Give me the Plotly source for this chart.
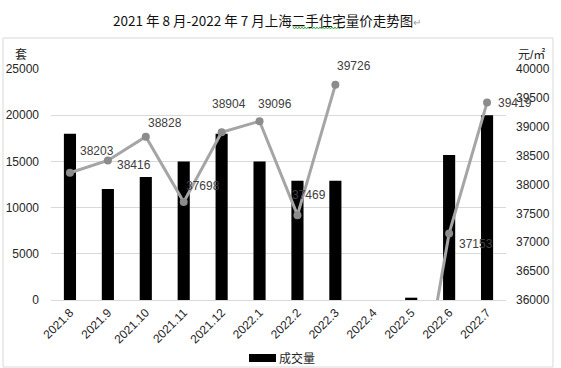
import plotly.graph_objects as go

# ---- data ----
months = ["2021.8", "2021.9", "2021.10", "2021.11", "2021.12", "2022.1",
          "2022.2", "2022.3", "2022.4", "2022.5", "2022.6", "2022.7"]
volume = [18000, 12000, 13300, 15000, 18000, 15000, 12900, 12900, 0, 250, 15700, 20000]
price = [38203, 38416, 38828, 37698, 38904, 39096, 37469, 39726, None, 33400, 37153, 39419]

y1_ticks = [0, 5000, 10000, 15000, 20000, 25000]
y2_range = [36000, 40000]

# label offsets in px (style)
label_dx = [27, 26, 19, 19, 7, 15, 12, 19, 0, 0, 27, 28]
label_dy = [22, -5, 14, 16, 28, 17, 20, 19, 0, 0, -11, 0]

W, H = 561, 368
L, R, T, B = 51, 506, 69, 300  # plot area in px


def px(x):
    return (x - L) / (R - L)


def py(y):
    return (B - y) / (B - T)


FONT = "Liberation Sans, Noto Sans CJK SC, sans-serif"

fig = go.Figure()
fig.add_bar(x=months, y=volume, marker_color="black", marker_line_width=0,
            width=0.32, name="成交量", showlegend=False)
fig.add_scatter(x=months, y=price, yaxis="y2", mode="lines+markers",
                line=dict(color="#a5a5a5", width=3),
                marker=dict(color="#8c8c8c", size=8),
                connectgaps=False, showlegend=False, cliponaxis=True)

annotations = []
for i, (p, dx, dy) in enumerate(zip(price, label_dx, label_dy)):
    if p is None or p < y2_range[0] or p > y2_range[1]:
        continue
    annotations.append(dict(x=i, y=p, xref="x", yref="y2", text=str(p),
                            showarrow=False, xshift=dx, yshift=dy,
                            font=dict(size=12, color="#404040", family=FONT)))

# title
annotations.append(dict(x=px(111), y=py(20), xref="paper", yref="paper",
                        xanchor="left", yanchor="middle", showarrow=False,
                        text="2021 年 8 月-2022 年 7 月上海二手住宅量价走势图<span style='color:#a0a0a0;font-size:10px'>↵</span>",
                        font=dict(size=13.5, color="#111111", family="Noto Sans CJK SC, Liberation Sans")))
# axis unit labels
annotations.append(dict(x=px(21.5), y=py(55), xref="paper", yref="paper",
                        xanchor="center", yanchor="middle", showarrow=False,
                        text="套", font=dict(size=12, color="#262626", family=FONT)))
annotations.append(dict(x=px(531), y=py(55), xref="paper", yref="paper",
                        xanchor="center", yanchor="middle", showarrow=False,
                        text="元/㎡", font=dict(size=12, color="#262626", family=FONT)))
# legend text
annotations.append(dict(x=px(277), y=py(358), xref="paper", yref="paper",
                        xanchor="left", yanchor="middle", showarrow=False,
                        text="成交量", font=dict(size=12, color="#262626", family=FONT)))

shapes = [
    # chart border
    dict(type="rect", xref="paper", yref="paper", x0=px(3), x1=px(553),
         y0=py(367), y1=py(38), line=dict(color="#d9d9d9", width=1), layer="below"),
    # legend swatch
    dict(type="rect", xref="paper", yref="paper", x0=px(249), x1=px(276),
         y0=py(362), y1=py(354), fillcolor="black", line=dict(width=0)),
]
# wavy grammar underline under 二手住宅
pts = []
xx = 293.0
k = 0
while xx <= 343:
    yy = 27.0 if k % 2 == 0 else 29.0
    pts.append((px(xx), py(yy)))
    xx += 1.5
    k += 1
path = "M " + " L ".join(f"{a:.5f},{b:.5f}" for a, b in pts)
shapes.append(dict(type="path", xref="paper", yref="paper", path=path,
                   line=dict(color="#3cb043", width=1)))

fig.update_layout(
    width=W, height=H,
    margin=dict(l=L, r=W - R, t=T, b=H - B, autoexpand=False),
    paper_bgcolor="white", plot_bgcolor="white",
    font=dict(family=FONT, size=12, color="#262626"),
    showlegend=False,
    xaxis=dict(type="category", range=[-0.5, len(months) - 0.5], tickangle=-45,
               showgrid=False, showline=True,
               linecolor="#d9d9d9", linewidth=1, ticks="", zeroline=False,
               tickfont=dict(size=12, color="#262626")),
    yaxis=dict(range=[y1_ticks[0], y1_ticks[-1]], tickvals=y1_ticks,
               tickformat="d", showgrid=True, gridcolor="#d9d9d9", gridwidth=1,
               zeroline=False, showline=False, ticks="", ticklabelstandoff=11,
               tickfont=dict(size=12, color="#262626")),
    yaxis2=dict(range=y2_range, dtick=500, tickformat="d", overlaying="y",
                side="right", showgrid=False, zeroline=False, showline=False,
                ticks="", ticklabelstandoff=9,
                tickfont=dict(size=12, color="#262626")),
    annotations=annotations,
    shapes=shapes,
)

fig.write_html("out.html", config={"displayModeBar": False},
               post_script="document.body.style.margin='0';document.body.style.padding='0';")
